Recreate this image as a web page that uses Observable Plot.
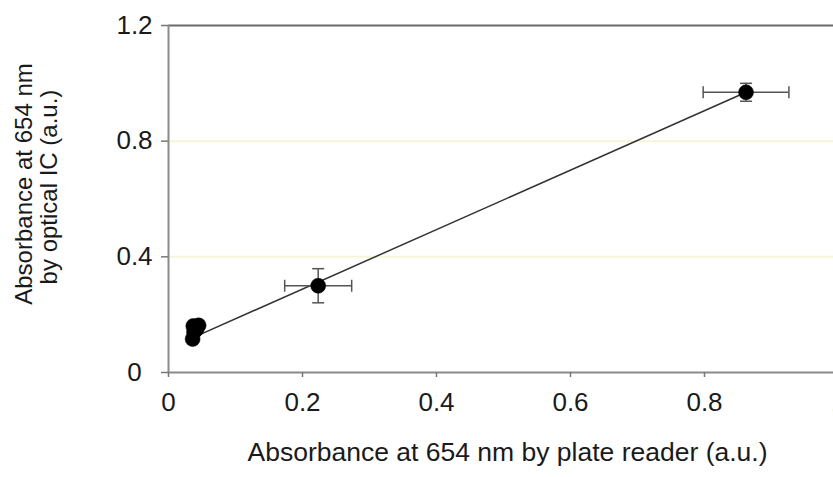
<!DOCTYPE html>
<html><head><meta charset="utf-8">
<script src="https://cdn.jsdelivr.net/npm/d3@7"></script>
<script src="https://cdn.jsdelivr.net/npm/@observablehq/plot@0.6"></script>
<style>body{margin:0;background:#fff;overflow:hidden} svg{display:block}</style>
</head><body><div id="chart"></div>
<script>
const plateReader = [0.036, 0.037, 0.038, 0.042, 0.045, 0.2234, 0.862];
const opticalIC   = [0.116, 0.161, 0.140, 0.150, 0.163, 0.300, 0.969];
const errX = [0, 0, 0, 0, 0, 0.050, 0.064];
const errY = [0, 0, 0, 0, 0, 0.059, 0.031];
const fitX = [0.035, 0.862];
const fitY = [0.119, 0.969];
const xTicks = [0, 0.2, 0.4, 0.6, 0.8, 1];
const yTicks = [0, 0.4, 0.8, 1.2];
const gridY = [0.4, 0.8];
const xLabel = "Absorbance at 654 nm by plate reader (a.u.)";
const yLabelLines = ["Absorbance at 654 nm", "by optical IC (a.u.)"];

const points = plateReader.map((x, i) => ({x, y: opticalIC[i], ex: errX[i], ey: errY[i]}));
const withErr = points.filter(d => d.ex > 0 || d.ey > 0);
const fit = fitX.map((x, i) => ({x, y: fitY[i]}));
const capsV = withErr.flatMap(d => [{x: d.x - d.ex, y: d.y}, {x: d.x + d.ex, y: d.y}]);
const capsH = withErr.flatMap(d => [{x: d.x, y: d.y - d.ey}, {x: d.x, y: d.y + d.ey}]);

const vbar = {draw(ctx, size) { const h = Math.sqrt(size / Math.PI); ctx.moveTo(0, -h); ctx.lineTo(0, h); }};
const hbar = {draw(ctx, size) { const h = Math.sqrt(size / Math.PI); ctx.moveTo(-h, 0); ctx.lineTo(h, 0); }};

const font = "'Liberation Sans', Arial, Helvetica, sans-serif";
const chart = Plot.plot({
  width: 833, height: 477,
  marginLeft: 168, marginRight: -5, marginTop: 25, marginBottom: 105,
  style: {fontFamily: font, fontSize: "26px", color: "#1a1a1a", background: "#fff"},
  x: {domain: [0, 1]},
  y: {domain: [0, 1.2]},
  marks: [
    Plot.ruleY(gridY, {stroke: "#f6f6d6", strokeWidth: 2}),
    Plot.ruleY([1.2], {stroke: "#6a6a6a", strokeWidth: 2}),
    Plot.ruleX([0], {stroke: "#8a8a8a", strokeWidth: 2}),
    Plot.ruleY([0], {stroke: "#8a8a8a", strokeWidth: 2}),
    Plot.axisX({ticks: xTicks, tickFormat: d => String(d), tickSize: 5, tickPadding: 15, stroke: "#777", strokeWidth: 1.5, label: null, fill: "#1a1a1a", fontSize: 26}),
    Plot.axisY({ticks: yTicks, tickFormat: d => String(d), tickSize: 7, tickPadding: 27, textAnchor: "middle", stroke: "#777", strokeWidth: 1.5, label: null, fill: "#1a1a1a", fontSize: 26}),
    Plot.line(fit, {x: "x", y: "y", stroke: "#333", strokeWidth: 1.5}),
    Plot.ruleY(withErr, {y: "y", x1: d => d.x - d.ex, x2: d => d.x + d.ex, stroke: "#555", strokeWidth: 1.5}),
    Plot.ruleX(withErr, {x: "x", y1: d => d.y - d.ey, y2: d => d.y + d.ey, stroke: "#555", strokeWidth: 1.5}),
    Plot.dot(capsV, {x: "x", y: "y", symbol: vbar, r: 6, stroke: "#555", strokeWidth: 1.5, fill: "none"}),
    Plot.dot(capsH, {x: "x", y: "y", symbol: hbar, r: 6, stroke: "#555", strokeWidth: 1.5, fill: "none"}),
    Plot.dot(points, {x: "x", y: "y", r: 7.5, fill: "#000", stroke: "#000", strokeWidth: 0.5}),
    Plot.text([xLabel], {frameAnchor: "bottom", textAnchor: "middle", dx: 4, dy: 88.5, fontSize: 26.5, fill: "#1a1a1a"}),
    Plot.text([yLabelLines[0]], {frameAnchor: "left", textAnchor: "middle", rotate: -90, dx: -144, dy: -15, fontSize: 24, fill: "#1a1a1a"}),
    Plot.text([yLabelLines[1]], {frameAnchor: "left", textAnchor: "middle", rotate: -90, dx: -119, dy: -12, fontSize: 24, fill: "#1a1a1a"})
  ]
});
document.getElementById("chart").append(chart);
</script>
</body></html>
